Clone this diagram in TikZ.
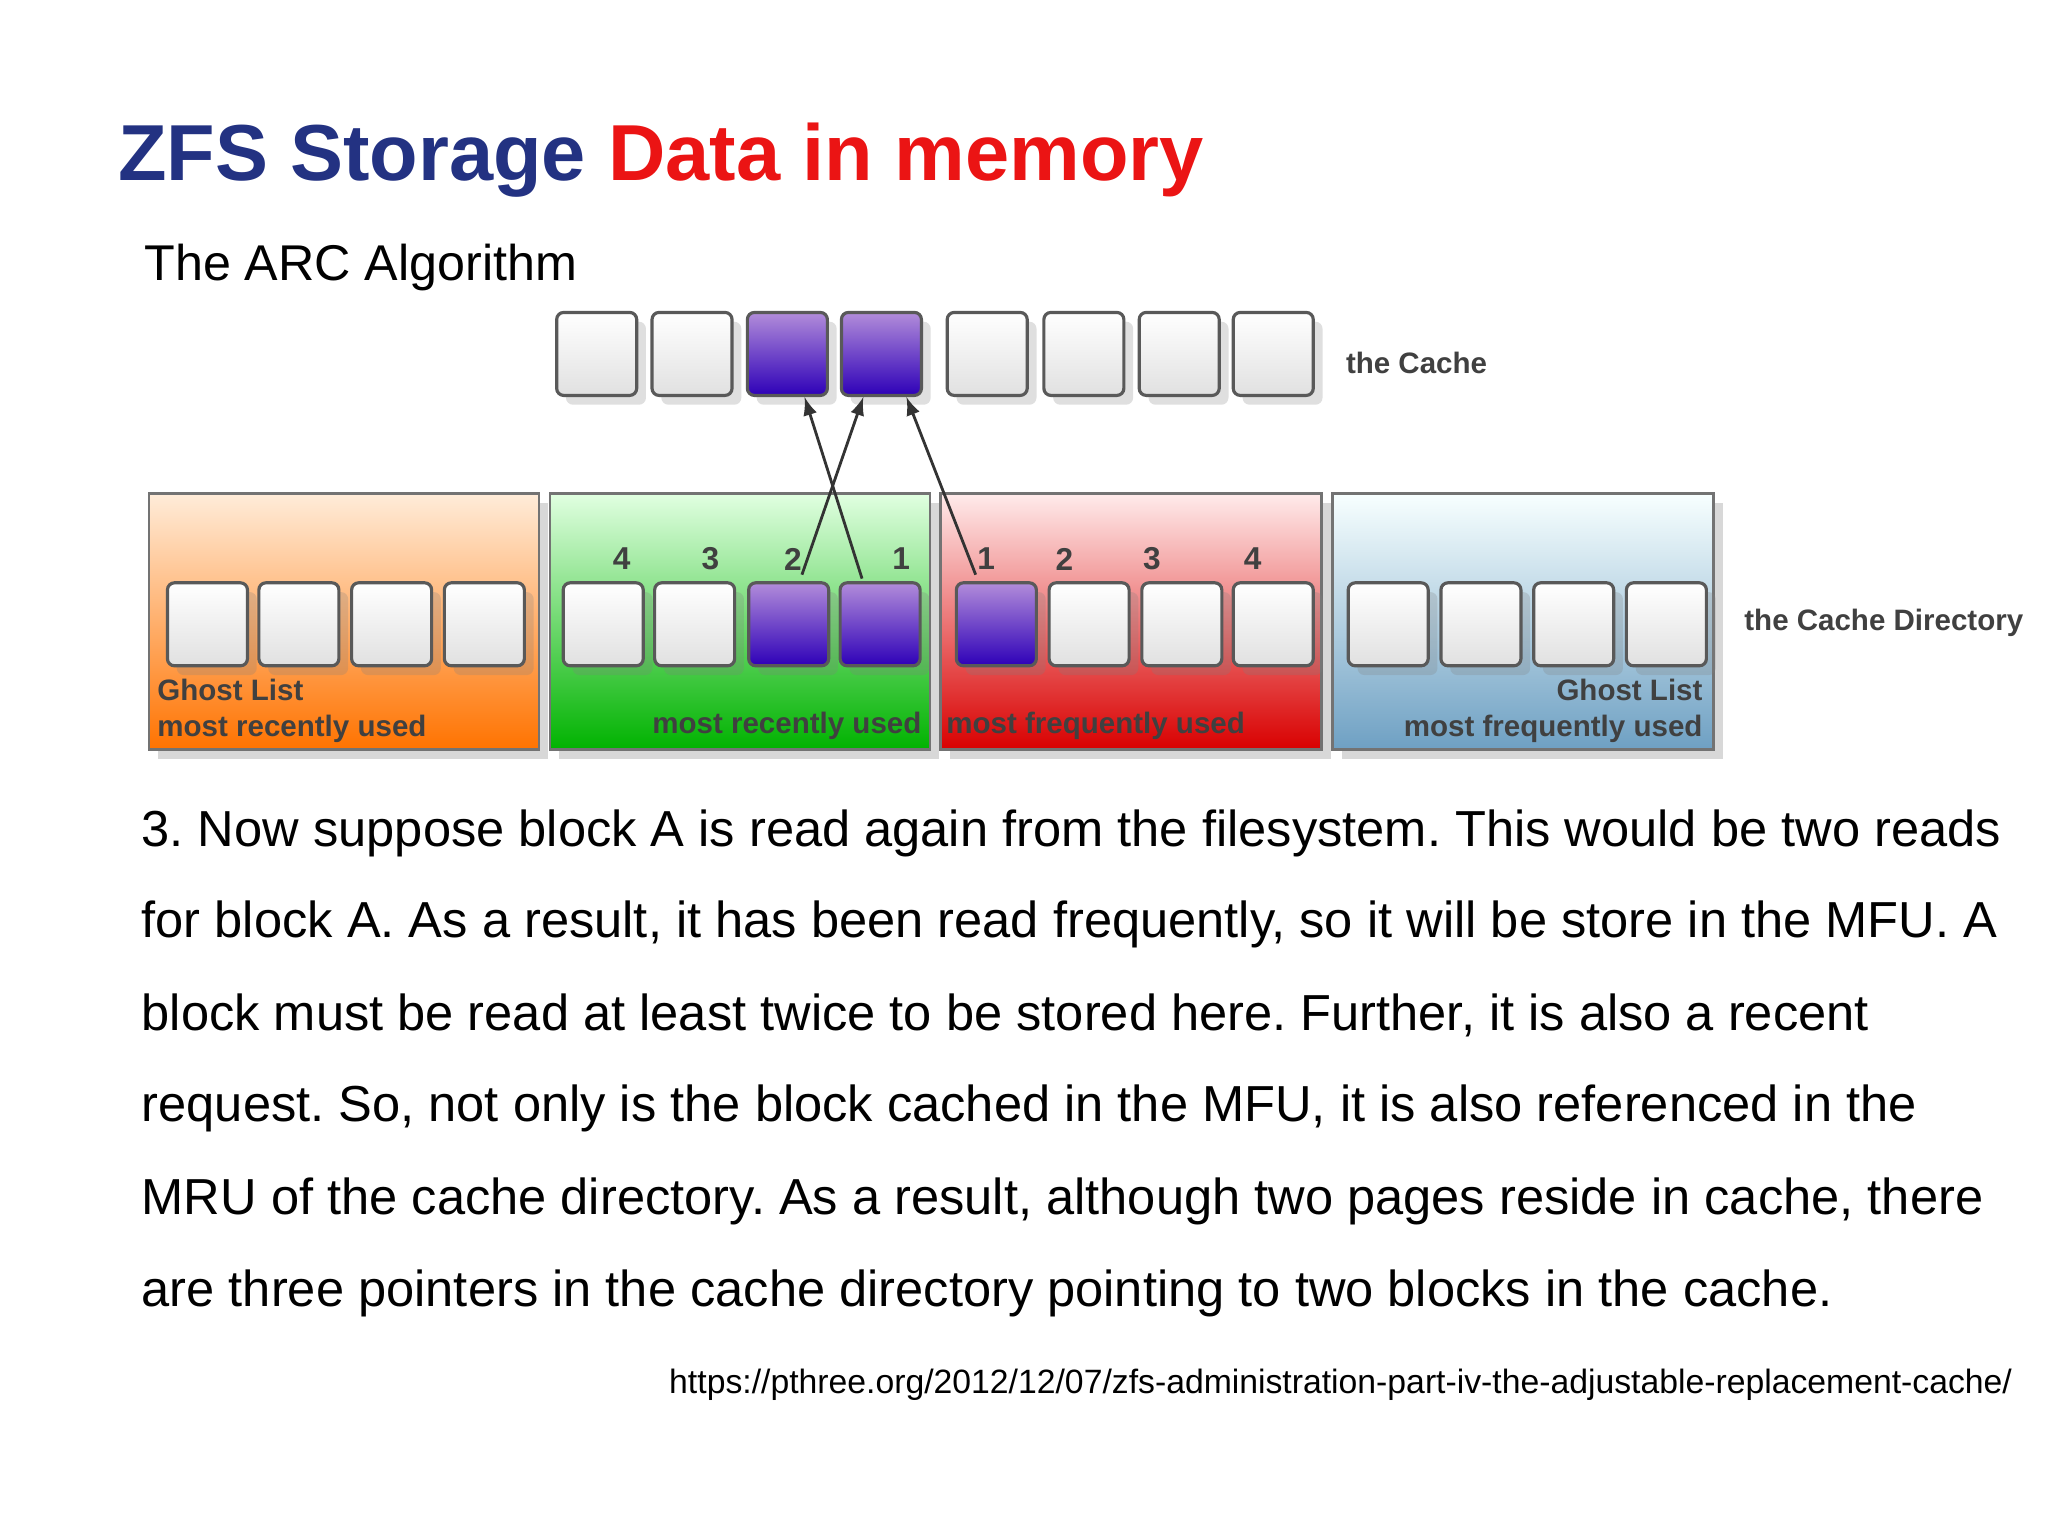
\documentclass[tikz,border=0pt]{standalone}
\usepackage{fontspec}
\setmainfont{Liberation Sans}
\frenchspacing
\usetikzlibrary{shadows}
\definecolor{tblue}{RGB}{35,50,130}
\definecolor{tred}{RGB}{235,20,20}
\definecolor{steel}{RGB}{110,160,195}
\tikzset{
  x=0.013061cm, y=-0.013061cm,
  gbox/.style={draw=black!65, line width=0.9pt, rounded corners=2pt, top color=white, bottom color=black!12, minimum width=0.8cm, minimum height=0.83cm, inner sep=0pt, anchor=north west, drop shadow={opacity=0.25}},
  pbox/.style={gbox, top color=blue!35!violet!45, bottom color=blue!60!violet!90!black},
  panel/.style={draw=black!55, line width=0.8pt, anchor=north west, inner sep=0pt, minimum height=2.56cm, drop shadow={opacity=0.3}},
  lbl/.style={font=\fontsize{8.4}{10}\selectfont\bfseries, text=black!75, inner sep=0pt},
  num/.style={lbl, font=\fontsize{9}{10}\selectfont\bfseries},
  para/.style={anchor=base west, inner sep=0pt, font=\fontsize{14.4}{15}\selectfont},
  arr/.style={-latex, line width=0.8pt, black!80}
}
\begin{document}
\begin{tikzpicture}
\useasboundingbox[fill=white] (0,0) rectangle (1568,1176);
\node[anchor=base west, inner sep=0pt, font=\fontsize{22.6}{26}\selectfont\bfseries] (title) at (90,138) {\textcolor{tblue}{ZFS Storage} \textcolor{tred}{Data in memory}};
\node[anchor=base west, inner sep=0pt, font=\fontsize{14.3}{16}\selectfont] (sub) at (110,215) {The ARC Algorithm};
% cache
\foreach \x/\s [count=\i] in {425/gbox,498/gbox,571/pbox,643/pbox,724/gbox,798/gbox,871/gbox,943/gbox}
  \node[\s] (c\i) at (\x,238) {};
\node[lbl, anchor=west] (tc) at (1030,278) {the Cache};
% panels
\node[panel, minimum width=3.9cm, top color=orange!15, bottom color=orange!90!red] (po) at (113,377) {};
\node[panel, minimum width=3.8cm, top color=green!12, bottom color=green!70!black] (pg) at (420,377) {};
\node[panel, minimum width=3.81cm, top color=red!8, bottom color=red!85!black] (pr) at (719,377) {};
\node[panel, minimum width=3.81cm, top color=cyan!3, bottom color=steel] (pb) at (1019,377) {};
\foreach \x [count=\i] in {127,197,268,339} \node[gbox] (o\i) at (\x,445) {};
\foreach \x/\s [count=\i] in {430/gbox,500/gbox,572/pbox,642/pbox} \node[\s] (g\i) at (\x,445) {};
\foreach \x/\s [count=\i] in {731/pbox,802/gbox,873/gbox,943/gbox} \node[\s] (r\i) at (\x,445) {};
\foreach \x [count=\i] in {1031,1102,1173,1244} \node[gbox] (b\i) at (\x,445) {};
% numbers
\foreach \x/\t [count=\i] in {476/4,544/3,607/2,690/1} \node[num] (gn\i) at (\x,428) {\t};
\foreach \x/\t [count=\i] in {755/1,815/2,882/3,959/4} \node[num] (rn\i) at (\x,428) {\t};
% labels
\node[lbl, anchor=west] (ol1) at (120,528) {Ghost List};
\node[lbl, anchor=west] (ol2) at (120,558) {most recently used};
\node[lbl, anchor=east] (gl) at (706,556) {most recently used};
\node[lbl, anchor=west] (rl) at (724,556) {most frequently used};
\node[lbl, anchor=east] (bl1) at (1304,528) {Ghost List};
\node[lbl, anchor=east] (bl2) at (1304,558) {most frequently used};
\node[lbl, anchor=west] (tcd) at (1335,477) {the Cache Directory};
% arrows
\coordinate (a1) at (660,443); \coordinate (a2) at (614,440); \coordinate (a3) at (747,440);
\draw[arr] (a1) -- (c3.south -| 616,0);
\draw[arr] (a2) -- (c4.south -| 661,0);
\draw[arr] (a3) -- (c4.south -| 694,0);
% paragraph
\node[para] (p1) at (108,648) {3. Now suppose block A is read again from the filesystem. This would be two reads};
\node[para] (p2) at (108,718) {for block A. As a result, it has been read frequently, so it will be store in the MFU. A};
\node[para] (p3) at (108,789) {block must be read at least twice to be stored here. Further, it is also a recent};
\node[para] (p4) at (108,859) {request. So, not only is the block cached in the MFU, it is also referenced in the};
\node[para] (p5) at (108,930) {MRU of the cache directory. As a result, although two pages reside in cache, there};
\node[para] (p6) at (108,1000) {are three pointers in the cache directory pointing to two blocks in the cache.};
\node[anchor=base east, inner sep=0pt, font=\fontsize{9.6}{10}\selectfont] (url) at (1541,1067) {https://pthree.org/2012/12/07/zfs-administration-part-iv-the-adjustable-replacement-cache/};
\end{tikzpicture}
\end{document}
